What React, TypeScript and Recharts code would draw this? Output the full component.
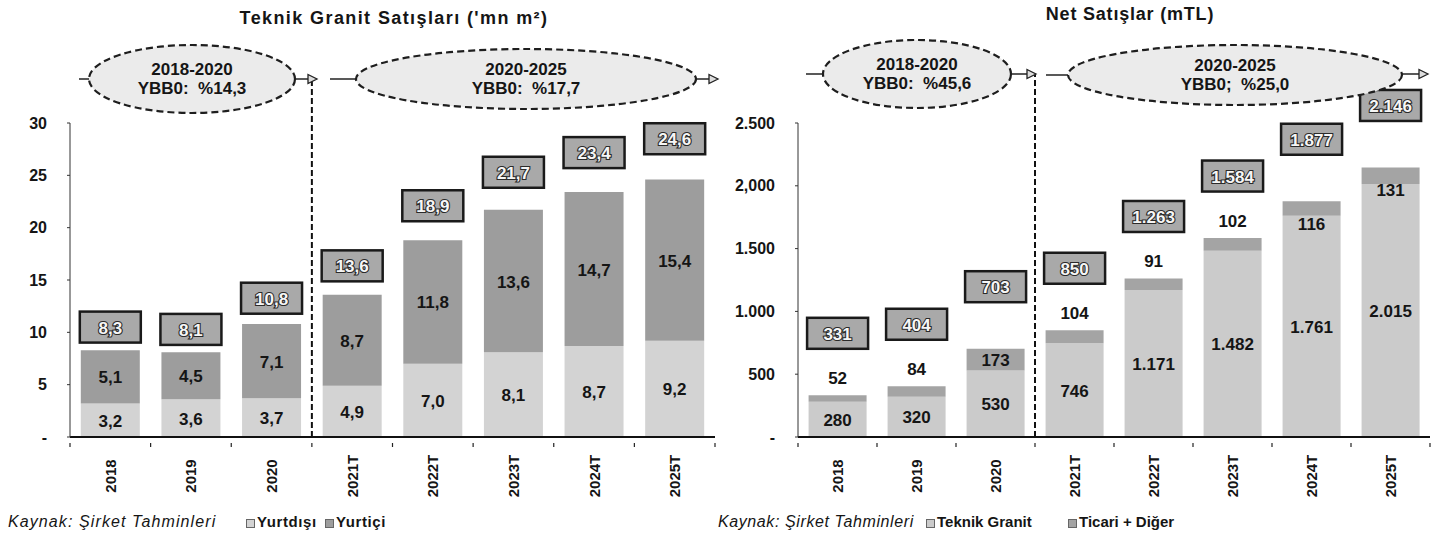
import React from 'react';
import { BarChart, Bar, XAxis, YAxis, LabelList, ReferenceLine } from 'recharts';

// ---------- data ----------
const years = ['2018', '2019', '2020', '2021T', '2022T', '2023T', '2024T', '2025T'];

const granitYurtdisi = [3.2, 3.6, 3.7, 4.9, 7.0, 8.1, 8.7, 9.2];
const granitYurtici = [5.1, 4.5, 7.1, 8.7, 11.8, 13.6, 14.7, 15.4];
const granitTotal = [8.3, 8.1, 10.8, 13.6, 18.9, 21.7, 23.4, 24.6];
const granitTicks = [0, 5, 10, 15, 20, 25, 30];
const granitTickLabels = ['-', '5', '10', '15', '20', '25', '30'];

const netTeknik = [280, 320, 530, 746, 1171, 1482, 1761, 2015];
const netTicari = [52, 84, 173, 104, 91, 102, 116, 131];
const netTotal = [331, 404, 703, 850, 1263, 1584, 1877, 2146];
const netTicks = [0, 500, 1000, 1500, 2000, 2500];
const netTickLabels = ['-', '500', '1.000', '1.500', '2,000', '2.500'];

// where the thin "Ticari + Diğer" value label sits relative to its segment
const ticariLabelPlacement = ['above', 'above', 'inside', 'above', 'above', 'above', 'below', 'below'];

const granitData = years.map((y, i) => ({
  year: y,
  yurtdisi: granitYurtdisi[i],
  yurtici: granitYurtici[i],
  total: granitTotal[i],
}));
const netData = years.map((y, i) => ({
  year: y,
  teknik: netTeknik[i],
  ticari: netTicari[i],
  total: netTotal[i],
}));

// ---------- style ----------
const FONT = "'Liberation Sans Narrow','Arial Narrow','Liberation Sans',Arial,sans-serif";
const C = {
  light: '#d3d3d3',
  dark: '#9d9d9d',
  netLight: '#cbcbcb',
  netDark: '#a4a4a4',
  box: '#a9a9a9',
  ellipse: '#ebebeb',
  ink: '#151515',
};

const fmtDec = (v: number) => v.toFixed(1).replace('.', ',');
const fmtThousands = (v: number) => {
  const s = String(Math.round(v));
  return s.replace(/\B(?=(\d{3})+(?!\d))/g, '.');
};

const getBox = (p: any) => {
  const vb = p.viewBox || {};
  return {
    x: p.x ?? vb.x,
    y: p.y ?? vb.y,
    width: p.width ?? vb.width,
    height: p.height ?? vb.height,
  };
};

const CHART_H = 545;
const PLOT_TOP = 123;
const PLOT_BOTTOM = 437;
const X_AXIS_H = 60;

const makeInsideLabel = (fmt: (v: number) => string) => (p: any) => {
  const { x, y, width, height } = getBox(p);
  return (
    <text
      x={x + width / 2}
      y={y + height / 2 + 1}
      textAnchor="middle"
      dominantBaseline="central"
      fontFamily={FONT}
      fontWeight="bold"
      fontSize={17}
      fill={C.ink}
    >
      {fmt(p.value)}
    </text>
  );
};

// lift = base + growth * (bar height in px)
const makeTotalBox = (fmt: (v: number) => string, base: number, growth: number) => (p: any) => {
  const { x, y, width } = getBox(p);
  const cx = x + width / 2;
  const cy = y - (base + growth * (PLOT_BOTTOM - y));
  const bw = 61;
  const bh = 31;
  return (
    <g>
      <rect x={cx - bw / 2} y={cy - bh / 2} width={bw} height={bh} fill={C.box} stroke="#1a1a1a" strokeWidth={2.5} />
      <text
        x={cx}
        y={cy + 1}
        textAnchor="middle"
        dominantBaseline="central"
        fontFamily={FONT}
        fontWeight="bold"
        fontSize={17}
        fill="#f6f6f6"
        stroke="#2a2a2a"
        strokeWidth={2.2}
        paintOrder="stroke"
      >
        {fmt(p.value)}
      </text>
    </g>
  );
};

const TicariLabel = (p: any) => {
  const { x, y, width, height } = getBox(p);
  const place = ticariLabelPlacement[p.index] || 'above';
  let ty = y - 17;
  if (place === 'inside') ty = y + height / 2 + 1;
  if (place === 'below') ty = y + 23;
  return (
    <text
      x={x + width / 2}
      y={ty}
      textAnchor="middle"
      dominantBaseline="central"
      fontFamily={FONT}
      fontWeight="bold"
      fontSize={17}
      fill={C.ink}
    >
      {fmtThousands(p.value)}
    </text>
  );
};

const makeXTick = (band: number, count: number) => (p: any) => {
  const { x, y, payload, index } = p;
  const left = x - band / 2;
  const right = x + band / 2;
  return (
    <g>
      <line x1={left} y1={y} x2={left} y2={y + 4} stroke="#222" strokeWidth={1.2} />
      {index === count - 1 && <line x1={right} y1={y} x2={right} y2={y + 4} stroke="#222" strokeWidth={1.2} />}
      <text
        transform={`translate(${x},${y + 33}) rotate(-90)`}
        textAnchor="middle"
        dominantBaseline="central"
        fontFamily={FONT}
        fontWeight="bold"
        fontSize={15}
        fill={C.ink}
      >
        {payload.value}
      </text>
    </g>
  );
};

const axisTickStyle = { fontFamily: FONT, fontWeight: 'bold', fontSize: 16, fill: C.ink } as any;

function Annotation({ cx, cy, rx, ry, l1, l2, stubFrom, arrowTo, arrowY }: any) {
  return (
    <g>
      <line x1={stubFrom} y1={cy} x2={cx - rx} y2={cy} stroke="#222" strokeWidth={1.5} />
      <line x1={cx + rx} y1={arrowY} x2={arrowTo - 8} y2={arrowY} stroke="#222" strokeWidth={1.5} />
      <polygon
        points={`${arrowTo - 9},${arrowY - 4.5} ${arrowTo},${arrowY} ${arrowTo - 9},${arrowY + 4.5}`}
        fill="#ddd"
        stroke="#222"
        strokeWidth={1.3}
      />
      <ellipse cx={cx} cy={cy} rx={rx} ry={ry} fill={C.ellipse} stroke="#1e1e1e" strokeWidth={2.2} strokeDasharray="7 4" />
      <text x={cx} y={cy - 9.5} textAnchor="middle" dominantBaseline="central" fontFamily={FONT} fontWeight="bold" fontSize={17} fill={C.ink} style={{ whiteSpace: 'pre' }}>
        {l1}
      </text>
      <text x={cx} y={cy + 9.5} textAnchor="middle" dominantBaseline="central" fontFamily={FONT} fontWeight="bold" fontSize={17} fill={C.ink} style={{ whiteSpace: 'pre' }}>
        {l2}
      </text>
    </g>
  );
}

function LegendSwatch({ color, left }: any) {
  return (
    <span
      style={{
        position: 'absolute',
        left,
        top: 519,
        width: 7,
        height: 7,
        background: color,
        border: '1px solid #666',
      }}
    />
  );
}

const legendText: React.CSSProperties = {
  position: 'absolute',
  top: 513,
  fontFamily: FONT,
  fontSize: 15,
  color: C.ink,
  whiteSpace: 'nowrap',
};

const L_ARROW_Y = 79;
const R_ARROW_Y = 74;

export default function App() {
  const leftW = 720;
  const leftYAxisW = 70;
  const leftRight = 5;
  const leftBand = (leftW - leftYAxisW - leftRight) / years.length;

  const rightX = 720;
  const rightW = 716;
  const rightYAxisW = 78;
  const rightRight = 6;
  const rightBand = (rightW - rightYAxisW - rightRight) / years.length;

  const leftPxPerUnit = (PLOT_BOTTOM - PLOT_TOP) / 30;
  const rightPxPerUnit = (PLOT_BOTTOM - PLOT_TOP) / 2500;

  return (
    <div style={{ position: 'absolute', left: 0, top: 0, width: 1436, height: 545, background: '#fff', overflow: 'hidden' }}>
      {/* titles */}
      <div style={{ position: 'absolute', left: 0, width: 788, top: 8, textAlign: 'center', fontFamily: FONT, fontWeight: 'bold', fontSize: 18, letterSpacing: 1.4, color: C.ink }}>
        Teknik Granit Satışları ('mn m²)
      </div>
      <div style={{ position: 'absolute', left: 1030, width: 200, top: 4, textAlign: 'center', fontFamily: FONT, fontWeight: 'bold', fontSize: 18, letterSpacing: 0.8, color: C.ink }}>
        Net Satışlar (mTL)
      </div>

      {/* left chart */}
      <div style={{ position: 'absolute', left: 0, top: 0 }}>
        <BarChart
          width={leftW}
          height={CHART_H}
          data={granitData}
          margin={{ top: PLOT_TOP, right: leftRight, left: 0, bottom: CHART_H - PLOT_BOTTOM - X_AXIS_H }}
          barCategoryGap="13.4%"
        >
          <XAxis
            dataKey="year"
            height={X_AXIS_H}
            interval={0}
            tickLine={false}
            tickMargin={0}
            axisLine={{ stroke: '#111', strokeWidth: 2 }}
            tick={makeXTick(leftBand, years.length)}
          />
          <YAxis
            width={leftYAxisW}
            domain={[0, 30]}
            ticks={granitTicks}
            interval={0}
            tickSize={3}
            tickMargin={20}
            axisLine={{ stroke: '#333', strokeWidth: 1 }}
            tickLine={{ stroke: '#333' }}
            tick={axisTickStyle}
            tickFormatter={(v: number) => granitTickLabels[granitTicks.indexOf(v)]}
          />
          <ReferenceLine
            segment={[{ x: '2021T', y: 0 }, { x: '2021T', y: (PLOT_BOTTOM - L_ARROW_Y) / leftPxPerUnit }]}
            position="start"
            ifOverflow="visible"
            stroke="#111"
            strokeWidth={2}
            strokeDasharray="6 3"
          />
          <Bar dataKey="yurtdisi" stackId="s" fill={C.light} isAnimationActive={false}>
            <LabelList dataKey="yurtdisi" content={makeInsideLabel(fmtDec)} />
          </Bar>
          <Bar dataKey="yurtici" stackId="s" fill={C.dark} isAnimationActive={false}>
            <LabelList dataKey="yurtici" content={makeInsideLabel(fmtDec)} />
            <LabelList dataKey="total" content={makeTotalBox(fmtDec, 14, 0.104)} />
          </Bar>
        </BarChart>
      </div>

      {/* right chart */}
      <div style={{ position: 'absolute', left: rightX, top: 0 }}>
        <BarChart
          width={rightW}
          height={CHART_H}
          data={netData}
          margin={{ top: PLOT_TOP, right: rightRight, left: 0, bottom: CHART_H - PLOT_BOTTOM - X_AXIS_H }}
          barCategoryGap="13.4%"
        >
          <XAxis
            dataKey="year"
            height={X_AXIS_H}
            interval={0}
            tickLine={false}
            tickMargin={0}
            axisLine={{ stroke: '#111', strokeWidth: 2 }}
            tick={makeXTick(rightBand, years.length)}
          />
          <YAxis
            width={rightYAxisW}
            domain={[0, 2500]}
            ticks={netTicks}
            interval={0}
            tickSize={3}
            tickMargin={20}
            axisLine={{ stroke: '#333', strokeWidth: 1 }}
            tickLine={{ stroke: '#333' }}
            tick={axisTickStyle}
            tickFormatter={(v: number) => netTickLabels[netTicks.indexOf(v)]}
          />
          <ReferenceLine
            segment={[{ x: '2021T', y: 0 }, { x: '2021T', y: (PLOT_BOTTOM - R_ARROW_Y) / rightPxPerUnit }]}
            position="start"
            ifOverflow="visible"
            stroke="#111"
            strokeWidth={2}
            strokeDasharray="6 3"
          />
          <Bar dataKey="teknik" stackId="s" fill={C.netLight} isAnimationActive={false}>
            <LabelList dataKey="teknik" content={makeInsideLabel(fmtThousands)} />
          </Bar>
          <Bar dataKey="ticari" stackId="s" fill={C.netDark} isAnimationActive={false}>
            <LabelList dataKey="ticari" content={TicariLabel} />
            <LabelList dataKey="total" content={makeTotalBox(fmtThousands, 62, 0)} />
          </Bar>
        </BarChart>
      </div>

      {/* growth annotations */}
      <svg width={1436} height={545} style={{ position: 'absolute', left: 0, top: 0, pointerEvents: 'none' }}>
        <Annotation cx={192} cy={L_ARROW_Y} rx={103} ry={34} l1="2018-2020" l2="YBB0:  %14,3" stubFrom={79} arrowTo={317} arrowY={L_ARROW_Y} />
        <Annotation cx={526} cy={L_ARROW_Y} rx={170} ry={30} l1="2020-2025" l2="YBB0:  %17,7" stubFrom={330} arrowTo={718} arrowY={L_ARROW_Y} />
        <Annotation cx={917} cy={R_ARROW_Y} rx={94} ry={34} l1="2018-2020" l2="YBB0:  %45,6" stubFrom={806} arrowTo={1036} arrowY={R_ARROW_Y} />
        <Annotation cx={1235} cy={R_ARROW_Y + 1} rx={167} ry={30} l1="2020-2025" l2="YBB0;  %25,0" stubFrom={1046} arrowTo={1428} arrowY={R_ARROW_Y} />
      </svg>

      {/* legends / source */}
      <div style={{ ...legendText, left: 8, fontSize: 16, fontStyle: 'italic', letterSpacing: 1.1 }}>Kaynak: Şirket Tahminleri</div>
      <LegendSwatch color={C.light} left={246} />
      <div style={{ ...legendText, left: 257, fontWeight: 'bold', letterSpacing: 0.6 }}>Yurtdışı</div>
      <LegendSwatch color={C.dark} left={325} />
      <div style={{ ...legendText, left: 336, fontWeight: 'bold', letterSpacing: 0.6 }}>Yurtiçi</div>

      <div style={{ ...legendText, left: 718, fontSize: 16, fontStyle: 'italic', letterSpacing: 0.6 }}>Kaynak: Şirket Tahminleri</div>
      <LegendSwatch color={C.netLight} left={926} />
      <div style={{ ...legendText, left: 937, fontWeight: 'bold' }}>Teknik Granit</div>
      <LegendSwatch color={C.netDark} left={1068} />
      <div style={{ ...legendText, left: 1079, fontWeight: 'bold' }}>Ticari + Diğer</div>
    </div>
  );
}
